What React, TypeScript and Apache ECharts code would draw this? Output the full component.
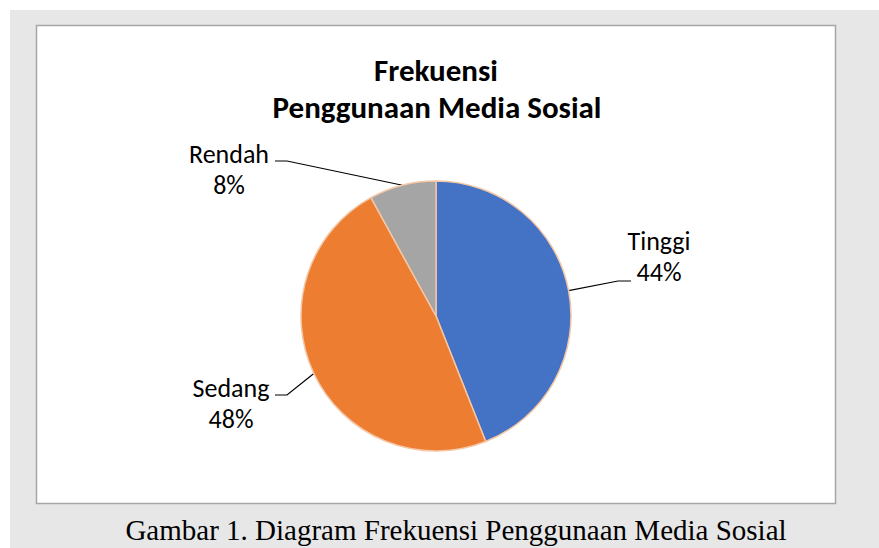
import React, { useEffect, useRef } from "react";
import * as echarts from "echarts";

const categories = ["Tinggi", "Sedang", "Rendah"];
const values = [44, 48, 8];
const colors = ["#4472C4", "#ED7D31", "#A5A5A5"];
const titleLines = ["Frekuensi", "Penggunaan Media Sosial"];
const caption = "Gambar 1. Diagram Frekuensi Penggunaan Media Sosial";

// label layout (positions only)
const labelPos = [
  { x: 659, y: 256, bend: [618, 281], end: [631, 281] },
  { x: 231, y: 403, bend: [287, 395], end: [275, 395] },
  { x: 229, y: 169, bend: [287, 161], end: [275, 161] },
];

const labelFont = "Carlito, Lato, 'Open Sans', sans-serif";

export default function App() {
  const ref = useRef<HTMLDivElement>(null);
  useEffect(() => {
    document.documentElement.style.overflow = "hidden";
    document.documentElement.style.background = "#e7e7e7";
    document.body.style.overflow = "hidden";
    if (!ref.current) return;
    const chart = echarts.init(ref.current, null, { renderer: "svg" });
    chart.setOption({
      animation: false,
      backgroundColor: "#ffffff",
      graphic: [
        { type: "rect", shape: { x: 10, y: 10, width: 900, height: 560 }, style: { fill: "#e7e7e7" }, z: -10 },
        { type: "rect", shape: { x: 36.5, y: 25.5, width: 799, height: 478 }, style: { fill: "#ffffff", stroke: "#a6a6a6", lineWidth: 1.5 }, z: -9 },
        { type: "text", x: 436, y: 70, style: { text: titleLines[0], font: `bold 31px ${labelFont}`, fill: "#000", align: "center", verticalAlign: "middle" } },
        { type: "text", x: 437, y: 107, style: { text: titleLines[1], font: `bold 31px ${labelFont}`, fill: "#000", align: "center", verticalAlign: "middle" } },
        { type: "text", x: 456, y: 530, style: { text: caption, font: "29px 'Liberation Serif', 'Times New Roman', serif", fill: "#000", align: "center", verticalAlign: "middle" } },
      ],
      series: [
        {
          type: "pie",
          center: [436, 316],
          radius: 135,
          startAngle: 90,
          clockwise: true,
          color: colors,
          itemStyle: { borderColor: "#f5c6a3", borderWidth: 1.5 },
          label: {
            show: true,
            position: "outside",
            formatter: (p: any) => `${p.name}\n${p.value}%`,
            fontFamily: labelFont,
            fontSize: 26,
            lineHeight: 31,
            color: "#000",
            align: "center",
          },
          labelLine: { show: true, lineStyle: { color: "#000", width: 1.2 } },
          labelLayout: (params: any) => {
            const lp = labelPos[params.dataIndex];
            const pts = params.labelLinePoints;
            const start = pts && pts[0] ? pts[0] : lp.bend;
            return {
              x: lp.x,
              y: lp.y,
              align: "center",
              verticalAlign: "middle",
              labelLinePoints: [start, lp.bend, lp.end],
            };
          },
          data: categories.map((c, i) => ({ name: c, value: values[i] })),
        },
      ],
    });
    return () => chart.dispose();
  }, []);
  return (
    <div
      ref={ref}
      style={{ position: "fixed", left: 0, top: 0, width: 879, height: 548 }}
    />
  );
}
